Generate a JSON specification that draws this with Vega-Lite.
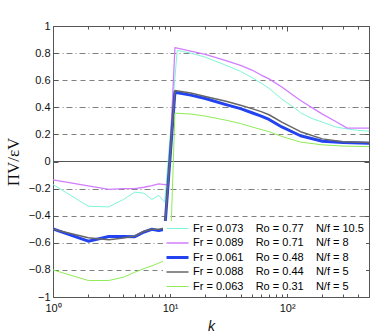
{
  "$schema": "https://vega.github.io/schema/vega-lite/v6.json",
  "width": 316,
  "height": 271,
  "autosize": "none",
  "padding": {"left": 53, "top": 26, "right": 5, "bottom": 35},
  "config": {
    "view": {"stroke": null},
    "font": "Liberation Sans",
    "axis": {"domainColor": "#555", "tickColor": "#555", "labelColor": "#111", "labelFontSize": 11, "labelFont": "Liberation Sans", "labelFlush": false, "labelOverlap": false, "labelBound": false, "titleColor": "#111", "titleFontWeight": "normal"},
    "legend": {"orient": "bottom-right", "offset": 3, "title": null, "symbolType": "stroke", "symbolSize": 484,
               "labelFontSize": 11, "labelLimit": 300, "labelOffset": 3, "rowPadding": 2.5, "padding": 2, "clipHeight": 11,
               "fillColor": "white"}
  },
  "data": {"values": [
    {"s": "Fr = 0.073\u00a0\u00a0\u00a0\u00a0Ro = 0.77\u00a0\u00a0\u00a0\u00a0N/f = 10.5", "k": 1, "v": -0.17},
    {"s": "Fr = 0.073\u00a0\u00a0\u00a0\u00a0Ro = 0.77\u00a0\u00a0\u00a0\u00a0N/f = 10.5", "k": 2, "v": -0.33},
    {"s": "Fr = 0.073\u00a0\u00a0\u00a0\u00a0Ro = 0.77\u00a0\u00a0\u00a0\u00a0N/f = 10.5", "k": 3, "v": -0.335},
    {"s": "Fr = 0.073\u00a0\u00a0\u00a0\u00a0Ro = 0.77\u00a0\u00a0\u00a0\u00a0N/f = 10.5", "k": 4, "v": -0.28},
    {"s": "Fr = 0.073\u00a0\u00a0\u00a0\u00a0Ro = 0.77\u00a0\u00a0\u00a0\u00a0N/f = 10.5", "k": 5, "v": -0.226},
    {"s": "Fr = 0.073\u00a0\u00a0\u00a0\u00a0Ro = 0.77\u00a0\u00a0\u00a0\u00a0N/f = 10.5", "k": 6, "v": -0.234},
    {"s": "Fr = 0.073\u00a0\u00a0\u00a0\u00a0Ro = 0.77\u00a0\u00a0\u00a0\u00a0N/f = 10.5", "k": 7, "v": -0.28},
    {"s": "Fr = 0.073\u00a0\u00a0\u00a0\u00a0Ro = 0.77\u00a0\u00a0\u00a0\u00a0N/f = 10.5", "k": 8, "v": -0.25},
    {"s": "Fr = 0.073\u00a0\u00a0\u00a0\u00a0Ro = 0.77\u00a0\u00a0\u00a0\u00a0N/f = 10.5", "k": 9, "v": -0.3},
    {"s": "Fr = 0.073\u00a0\u00a0\u00a0\u00a0Ro = 0.77\u00a0\u00a0\u00a0\u00a0N/f = 10.5", "k": 11.5, "v": 0.82},
    {"s": "Fr = 0.073\u00a0\u00a0\u00a0\u00a0Ro = 0.77\u00a0\u00a0\u00a0\u00a0N/f = 10.5", "k": 15, "v": 0.8},
    {"s": "Fr = 0.073\u00a0\u00a0\u00a0\u00a0Ro = 0.77\u00a0\u00a0\u00a0\u00a0N/f = 10.5", "k": 20, "v": 0.77},
    {"s": "Fr = 0.073\u00a0\u00a0\u00a0\u00a0Ro = 0.77\u00a0\u00a0\u00a0\u00a0N/f = 10.5", "k": 30, "v": 0.71},
    {"s": "Fr = 0.073\u00a0\u00a0\u00a0\u00a0Ro = 0.77\u00a0\u00a0\u00a0\u00a0N/f = 10.5", "k": 40, "v": 0.665},
    {"s": "Fr = 0.073\u00a0\u00a0\u00a0\u00a0Ro = 0.77\u00a0\u00a0\u00a0\u00a0N/f = 10.5", "k": 50, "v": 0.62},
    {"s": "Fr = 0.073\u00a0\u00a0\u00a0\u00a0Ro = 0.77\u00a0\u00a0\u00a0\u00a0N/f = 10.5", "k": 60, "v": 0.578},
    {"s": "Fr = 0.073\u00a0\u00a0\u00a0\u00a0Ro = 0.77\u00a0\u00a0\u00a0\u00a0N/f = 10.5", "k": 70, "v": 0.54},
    {"s": "Fr = 0.073\u00a0\u00a0\u00a0\u00a0Ro = 0.77\u00a0\u00a0\u00a0\u00a0N/f = 10.5", "k": 90, "v": 0.46},
    {"s": "Fr = 0.073\u00a0\u00a0\u00a0\u00a0Ro = 0.77\u00a0\u00a0\u00a0\u00a0N/f = 10.5", "k": 114, "v": 0.4},
    {"s": "Fr = 0.073\u00a0\u00a0\u00a0\u00a0Ro = 0.77\u00a0\u00a0\u00a0\u00a0N/f = 10.5", "k": 130, "v": 0.36},
    {"s": "Fr = 0.073\u00a0\u00a0\u00a0\u00a0Ro = 0.77\u00a0\u00a0\u00a0\u00a0N/f = 10.5", "k": 160, "v": 0.32},
    {"s": "Fr = 0.073\u00a0\u00a0\u00a0\u00a0Ro = 0.77\u00a0\u00a0\u00a0\u00a0N/f = 10.5", "k": 200, "v": 0.29},
    {"s": "Fr = 0.073\u00a0\u00a0\u00a0\u00a0Ro = 0.77\u00a0\u00a0\u00a0\u00a0N/f = 10.5", "k": 260, "v": 0.255},
    {"s": "Fr = 0.073\u00a0\u00a0\u00a0\u00a0Ro = 0.77\u00a0\u00a0\u00a0\u00a0N/f = 10.5", "k": 325, "v": 0.24},
    {"s": "Fr = 0.073\u00a0\u00a0\u00a0\u00a0Ro = 0.77\u00a0\u00a0\u00a0\u00a0N/f = 10.5", "k": 400, "v": 0.23},
    {"s": "Fr = 0.073\u00a0\u00a0\u00a0\u00a0Ro = 0.77\u00a0\u00a0\u00a0\u00a0N/f = 10.5", "k": 500, "v": 0.224},

    {"s": "Fr = 0.089\u00a0\u00a0\u00a0\u00a0Ro = 0.71\u00a0\u00a0\u00a0\u00a0N/f = 8", "k": 1, "v": -0.135},
    {"s": "Fr = 0.089\u00a0\u00a0\u00a0\u00a0Ro = 0.71\u00a0\u00a0\u00a0\u00a0N/f = 8", "k": 2, "v": -0.18},
    {"s": "Fr = 0.089\u00a0\u00a0\u00a0\u00a0Ro = 0.71\u00a0\u00a0\u00a0\u00a0N/f = 8", "k": 3, "v": -0.205},
    {"s": "Fr = 0.089\u00a0\u00a0\u00a0\u00a0Ro = 0.71\u00a0\u00a0\u00a0\u00a0N/f = 8", "k": 4, "v": -0.2},
    {"s": "Fr = 0.089\u00a0\u00a0\u00a0\u00a0Ro = 0.71\u00a0\u00a0\u00a0\u00a0N/f = 8", "k": 5, "v": -0.2},
    {"s": "Fr = 0.089\u00a0\u00a0\u00a0\u00a0Ro = 0.71\u00a0\u00a0\u00a0\u00a0N/f = 8", "k": 6, "v": -0.19},
    {"s": "Fr = 0.089\u00a0\u00a0\u00a0\u00a0Ro = 0.71\u00a0\u00a0\u00a0\u00a0N/f = 8", "k": 7, "v": -0.178},
    {"s": "Fr = 0.089\u00a0\u00a0\u00a0\u00a0Ro = 0.71\u00a0\u00a0\u00a0\u00a0N/f = 8", "k": 8, "v": -0.165},
    {"s": "Fr = 0.089\u00a0\u00a0\u00a0\u00a0Ro = 0.71\u00a0\u00a0\u00a0\u00a0N/f = 8", "k": 9, "v": -0.17},
    {"s": "Fr = 0.089\u00a0\u00a0\u00a0\u00a0Ro = 0.71\u00a0\u00a0\u00a0\u00a0N/f = 8", "k": 9.7, "v": -0.17},
    {"s": "Fr = 0.089\u00a0\u00a0\u00a0\u00a0Ro = 0.71\u00a0\u00a0\u00a0\u00a0N/f = 8", "k": 11, "v": 0.84},
    {"s": "Fr = 0.089\u00a0\u00a0\u00a0\u00a0Ro = 0.71\u00a0\u00a0\u00a0\u00a0N/f = 8", "k": 15, "v": 0.815},
    {"s": "Fr = 0.089\u00a0\u00a0\u00a0\u00a0Ro = 0.71\u00a0\u00a0\u00a0\u00a0N/f = 8", "k": 20, "v": 0.79},
    {"s": "Fr = 0.089\u00a0\u00a0\u00a0\u00a0Ro = 0.71\u00a0\u00a0\u00a0\u00a0N/f = 8", "k": 30, "v": 0.745},
    {"s": "Fr = 0.089\u00a0\u00a0\u00a0\u00a0Ro = 0.71\u00a0\u00a0\u00a0\u00a0N/f = 8", "k": 40, "v": 0.71},
    {"s": "Fr = 0.089\u00a0\u00a0\u00a0\u00a0Ro = 0.71\u00a0\u00a0\u00a0\u00a0N/f = 8", "k": 50, "v": 0.675},
    {"s": "Fr = 0.089\u00a0\u00a0\u00a0\u00a0Ro = 0.71\u00a0\u00a0\u00a0\u00a0N/f = 8", "k": 60, "v": 0.638},
    {"s": "Fr = 0.089\u00a0\u00a0\u00a0\u00a0Ro = 0.71\u00a0\u00a0\u00a0\u00a0N/f = 8", "k": 70, "v": 0.61},
    {"s": "Fr = 0.089\u00a0\u00a0\u00a0\u00a0Ro = 0.71\u00a0\u00a0\u00a0\u00a0N/f = 8", "k": 90, "v": 0.55},
    {"s": "Fr = 0.089\u00a0\u00a0\u00a0\u00a0Ro = 0.71\u00a0\u00a0\u00a0\u00a0N/f = 8", "k": 130, "v": 0.45},
    {"s": "Fr = 0.089\u00a0\u00a0\u00a0\u00a0Ro = 0.71\u00a0\u00a0\u00a0\u00a0N/f = 8", "k": 200, "v": 0.35},
    {"s": "Fr = 0.089\u00a0\u00a0\u00a0\u00a0Ro = 0.71\u00a0\u00a0\u00a0\u00a0N/f = 8", "k": 260, "v": 0.295},
    {"s": "Fr = 0.089\u00a0\u00a0\u00a0\u00a0Ro = 0.71\u00a0\u00a0\u00a0\u00a0N/f = 8", "k": 325, "v": 0.246},
    {"s": "Fr = 0.089\u00a0\u00a0\u00a0\u00a0Ro = 0.71\u00a0\u00a0\u00a0\u00a0N/f = 8", "k": 500, "v": 0.246},

    {"s": "Fr = 0.061\u00a0\u00a0\u00a0\u00a0Ro = 0.48\u00a0\u00a0\u00a0\u00a0N/f = 8", "k": 1, "v": -0.497},
    {"s": "Fr = 0.061\u00a0\u00a0\u00a0\u00a0Ro = 0.48\u00a0\u00a0\u00a0\u00a0N/f = 8", "k": 2, "v": -0.588},
    {"s": "Fr = 0.061\u00a0\u00a0\u00a0\u00a0Ro = 0.48\u00a0\u00a0\u00a0\u00a0N/f = 8", "k": 3, "v": -0.553},
    {"s": "Fr = 0.061\u00a0\u00a0\u00a0\u00a0Ro = 0.48\u00a0\u00a0\u00a0\u00a0N/f = 8", "k": 4, "v": -0.553},
    {"s": "Fr = 0.061\u00a0\u00a0\u00a0\u00a0Ro = 0.48\u00a0\u00a0\u00a0\u00a0N/f = 8", "k": 5, "v": -0.555},
    {"s": "Fr = 0.061\u00a0\u00a0\u00a0\u00a0Ro = 0.48\u00a0\u00a0\u00a0\u00a0N/f = 8", "k": 6, "v": -0.52},
    {"s": "Fr = 0.061\u00a0\u00a0\u00a0\u00a0Ro = 0.48\u00a0\u00a0\u00a0\u00a0N/f = 8", "k": 7, "v": -0.5},
    {"s": "Fr = 0.061\u00a0\u00a0\u00a0\u00a0Ro = 0.48\u00a0\u00a0\u00a0\u00a0N/f = 8", "k": 8, "v": -0.51},
    {"s": "Fr = 0.061\u00a0\u00a0\u00a0\u00a0Ro = 0.48\u00a0\u00a0\u00a0\u00a0N/f = 8", "k": 9, "v": -0.5},
    {"s": "Fr = 0.061\u00a0\u00a0\u00a0\u00a0Ro = 0.48\u00a0\u00a0\u00a0\u00a0N/f = 8", "k": 11, "v": 0.511},
    {"s": "Fr = 0.061\u00a0\u00a0\u00a0\u00a0Ro = 0.48\u00a0\u00a0\u00a0\u00a0N/f = 8", "k": 15, "v": 0.49},
    {"s": "Fr = 0.061\u00a0\u00a0\u00a0\u00a0Ro = 0.48\u00a0\u00a0\u00a0\u00a0N/f = 8", "k": 20, "v": 0.465},
    {"s": "Fr = 0.061\u00a0\u00a0\u00a0\u00a0Ro = 0.48\u00a0\u00a0\u00a0\u00a0N/f = 8", "k": 30, "v": 0.42},
    {"s": "Fr = 0.061\u00a0\u00a0\u00a0\u00a0Ro = 0.48\u00a0\u00a0\u00a0\u00a0N/f = 8", "k": 40, "v": 0.39},
    {"s": "Fr = 0.061\u00a0\u00a0\u00a0\u00a0Ro = 0.48\u00a0\u00a0\u00a0\u00a0N/f = 8", "k": 50, "v": 0.36},
    {"s": "Fr = 0.061\u00a0\u00a0\u00a0\u00a0Ro = 0.48\u00a0\u00a0\u00a0\u00a0N/f = 8", "k": 60, "v": 0.335},
    {"s": "Fr = 0.061\u00a0\u00a0\u00a0\u00a0Ro = 0.48\u00a0\u00a0\u00a0\u00a0N/f = 8", "k": 70, "v": 0.31},
    {"s": "Fr = 0.061\u00a0\u00a0\u00a0\u00a0Ro = 0.48\u00a0\u00a0\u00a0\u00a0N/f = 8", "k": 90, "v": 0.255},
    {"s": "Fr = 0.061\u00a0\u00a0\u00a0\u00a0Ro = 0.48\u00a0\u00a0\u00a0\u00a0N/f = 8", "k": 130, "v": 0.19},
    {"s": "Fr = 0.061\u00a0\u00a0\u00a0\u00a0Ro = 0.48\u00a0\u00a0\u00a0\u00a0N/f = 8", "k": 200, "v": 0.15},
    {"s": "Fr = 0.061\u00a0\u00a0\u00a0\u00a0Ro = 0.48\u00a0\u00a0\u00a0\u00a0N/f = 8", "k": 300, "v": 0.14},
    {"s": "Fr = 0.061\u00a0\u00a0\u00a0\u00a0Ro = 0.48\u00a0\u00a0\u00a0\u00a0N/f = 8", "k": 500, "v": 0.135},

    {"s": "Fr = 0.088\u00a0\u00a0\u00a0\u00a0Ro = 0.44\u00a0\u00a0\u00a0\u00a0N/f = 5", "k": 1, "v": -0.5},
    {"s": "Fr = 0.088\u00a0\u00a0\u00a0\u00a0Ro = 0.44\u00a0\u00a0\u00a0\u00a0N/f = 5", "k": 2, "v": -0.563},
    {"s": "Fr = 0.088\u00a0\u00a0\u00a0\u00a0Ro = 0.44\u00a0\u00a0\u00a0\u00a0N/f = 5", "k": 3, "v": -0.578},
    {"s": "Fr = 0.088\u00a0\u00a0\u00a0\u00a0Ro = 0.44\u00a0\u00a0\u00a0\u00a0N/f = 5", "k": 4, "v": -0.565},
    {"s": "Fr = 0.088\u00a0\u00a0\u00a0\u00a0Ro = 0.44\u00a0\u00a0\u00a0\u00a0N/f = 5", "k": 5, "v": -0.55},
    {"s": "Fr = 0.088\u00a0\u00a0\u00a0\u00a0Ro = 0.44\u00a0\u00a0\u00a0\u00a0N/f = 5", "k": 6, "v": -0.515},
    {"s": "Fr = 0.088\u00a0\u00a0\u00a0\u00a0Ro = 0.44\u00a0\u00a0\u00a0\u00a0N/f = 5", "k": 7, "v": -0.5},
    {"s": "Fr = 0.088\u00a0\u00a0\u00a0\u00a0Ro = 0.44\u00a0\u00a0\u00a0\u00a0N/f = 5", "k": 8, "v": -0.5},
    {"s": "Fr = 0.088\u00a0\u00a0\u00a0\u00a0Ro = 0.44\u00a0\u00a0\u00a0\u00a0N/f = 5", "k": 9, "v": -0.49},
    {"s": "Fr = 0.088\u00a0\u00a0\u00a0\u00a0Ro = 0.44\u00a0\u00a0\u00a0\u00a0N/f = 5", "k": 11, "v": 0.524},
    {"s": "Fr = 0.088\u00a0\u00a0\u00a0\u00a0Ro = 0.44\u00a0\u00a0\u00a0\u00a0N/f = 5", "k": 15, "v": 0.505},
    {"s": "Fr = 0.088\u00a0\u00a0\u00a0\u00a0Ro = 0.44\u00a0\u00a0\u00a0\u00a0N/f = 5", "k": 20, "v": 0.48},
    {"s": "Fr = 0.088\u00a0\u00a0\u00a0\u00a0Ro = 0.44\u00a0\u00a0\u00a0\u00a0N/f = 5", "k": 30, "v": 0.445},
    {"s": "Fr = 0.088\u00a0\u00a0\u00a0\u00a0Ro = 0.44\u00a0\u00a0\u00a0\u00a0N/f = 5", "k": 40, "v": 0.415},
    {"s": "Fr = 0.088\u00a0\u00a0\u00a0\u00a0Ro = 0.44\u00a0\u00a0\u00a0\u00a0N/f = 5", "k": 50, "v": 0.39},
    {"s": "Fr = 0.088\u00a0\u00a0\u00a0\u00a0Ro = 0.44\u00a0\u00a0\u00a0\u00a0N/f = 5", "k": 60, "v": 0.368},
    {"s": "Fr = 0.088\u00a0\u00a0\u00a0\u00a0Ro = 0.44\u00a0\u00a0\u00a0\u00a0N/f = 5", "k": 70, "v": 0.345},
    {"s": "Fr = 0.088\u00a0\u00a0\u00a0\u00a0Ro = 0.44\u00a0\u00a0\u00a0\u00a0N/f = 5", "k": 90, "v": 0.29},
    {"s": "Fr = 0.088\u00a0\u00a0\u00a0\u00a0Ro = 0.44\u00a0\u00a0\u00a0\u00a0N/f = 5", "k": 130, "v": 0.22},
    {"s": "Fr = 0.088\u00a0\u00a0\u00a0\u00a0Ro = 0.44\u00a0\u00a0\u00a0\u00a0N/f = 5", "k": 200, "v": 0.167},
    {"s": "Fr = 0.088\u00a0\u00a0\u00a0\u00a0Ro = 0.44\u00a0\u00a0\u00a0\u00a0N/f = 5", "k": 300, "v": 0.145},
    {"s": "Fr = 0.088\u00a0\u00a0\u00a0\u00a0Ro = 0.44\u00a0\u00a0\u00a0\u00a0N/f = 5", "k": 500, "v": 0.14},

    {"s": "Fr = 0.063\u00a0\u00a0\u00a0\u00a0Ro = 0.31\u00a0\u00a0\u00a0\u00a0N/f = 5", "k": 1, "v": -0.8},
    {"s": "Fr = 0.063\u00a0\u00a0\u00a0\u00a0Ro = 0.31\u00a0\u00a0\u00a0\u00a0N/f = 5", "k": 2, "v": -0.878},
    {"s": "Fr = 0.063\u00a0\u00a0\u00a0\u00a0Ro = 0.31\u00a0\u00a0\u00a0\u00a0N/f = 5", "k": 3, "v": -0.878},
    {"s": "Fr = 0.063\u00a0\u00a0\u00a0\u00a0Ro = 0.31\u00a0\u00a0\u00a0\u00a0N/f = 5", "k": 4, "v": -0.854},
    {"s": "Fr = 0.063\u00a0\u00a0\u00a0\u00a0Ro = 0.31\u00a0\u00a0\u00a0\u00a0N/f = 5", "k": 5, "v": -0.817},
    {"s": "Fr = 0.063\u00a0\u00a0\u00a0\u00a0Ro = 0.31\u00a0\u00a0\u00a0\u00a0N/f = 5", "k": 6, "v": -0.79},
    {"s": "Fr = 0.063\u00a0\u00a0\u00a0\u00a0Ro = 0.31\u00a0\u00a0\u00a0\u00a0N/f = 5", "k": 7, "v": -0.77},
    {"s": "Fr = 0.063\u00a0\u00a0\u00a0\u00a0Ro = 0.31\u00a0\u00a0\u00a0\u00a0N/f = 5", "k": 8, "v": -0.75},
    {"s": "Fr = 0.063\u00a0\u00a0\u00a0\u00a0Ro = 0.31\u00a0\u00a0\u00a0\u00a0N/f = 5", "k": 9, "v": -0.73},
    {"s": "Fr = 0.063\u00a0\u00a0\u00a0\u00a0Ro = 0.31\u00a0\u00a0\u00a0\u00a0N/f = 5", "k": 10, "v": -0.72},
    {"s": "Fr = 0.063\u00a0\u00a0\u00a0\u00a0Ro = 0.31\u00a0\u00a0\u00a0\u00a0N/f = 5", "k": 11, "v": 0.357},
    {"s": "Fr = 0.063\u00a0\u00a0\u00a0\u00a0Ro = 0.31\u00a0\u00a0\u00a0\u00a0N/f = 5", "k": 15, "v": 0.35},
    {"s": "Fr = 0.063\u00a0\u00a0\u00a0\u00a0Ro = 0.31\u00a0\u00a0\u00a0\u00a0N/f = 5", "k": 20, "v": 0.335},
    {"s": "Fr = 0.063\u00a0\u00a0\u00a0\u00a0Ro = 0.31\u00a0\u00a0\u00a0\u00a0N/f = 5", "k": 30, "v": 0.305},
    {"s": "Fr = 0.063\u00a0\u00a0\u00a0\u00a0Ro = 0.31\u00a0\u00a0\u00a0\u00a0N/f = 5", "k": 40, "v": 0.28},
    {"s": "Fr = 0.063\u00a0\u00a0\u00a0\u00a0Ro = 0.31\u00a0\u00a0\u00a0\u00a0N/f = 5", "k": 50, "v": 0.255},
    {"s": "Fr = 0.063\u00a0\u00a0\u00a0\u00a0Ro = 0.31\u00a0\u00a0\u00a0\u00a0N/f = 5", "k": 60, "v": 0.236},
    {"s": "Fr = 0.063\u00a0\u00a0\u00a0\u00a0Ro = 0.31\u00a0\u00a0\u00a0\u00a0N/f = 5", "k": 70, "v": 0.22},
    {"s": "Fr = 0.063\u00a0\u00a0\u00a0\u00a0Ro = 0.31\u00a0\u00a0\u00a0\u00a0N/f = 5", "k": 90, "v": 0.185},
    {"s": "Fr = 0.063\u00a0\u00a0\u00a0\u00a0Ro = 0.31\u00a0\u00a0\u00a0\u00a0N/f = 5", "k": 130, "v": 0.143},
    {"s": "Fr = 0.063\u00a0\u00a0\u00a0\u00a0Ro = 0.31\u00a0\u00a0\u00a0\u00a0N/f = 5", "k": 200, "v": 0.123},
    {"s": "Fr = 0.063\u00a0\u00a0\u00a0\u00a0Ro = 0.31\u00a0\u00a0\u00a0\u00a0N/f = 5", "k": 300, "v": 0.114},
    {"s": "Fr = 0.063\u00a0\u00a0\u00a0\u00a0Ro = 0.31\u00a0\u00a0\u00a0\u00a0N/f = 5", "k": 500, "v": 0.11}
  ]},
  "layer": [
    {
      "mark": {"type": "rule", "color": "#555", "strokeWidth": 1},
      "encoding": {"y": {"datum": 0, "type": "quantitative", "axis": null}}
    },
    {
      "mark": {"type": "line", "strokeJoin": "round", "clip": true},
      "encoding": {
        "x": {"field": "k", "type": "quantitative",
              "scale": {"type": "log", "domain": [1, 500], "nice": false},
              "axis": {"values": [1,2,3,4,5,6,7,8,9,10,20,30,40,50,60,70,80,90,100,200,300,400,500],
                       "labelExpr": "datum.value == 1 ? '10⁰' : datum.value == 10 ? '10¹' : datum.value == 100 ? '10²' : ''",
                       "tickSize": {"condition": {"test": "indexof([1,10,100], datum.value) >= 0", "value": -5}, "value": -3},
                       "labelPadding": 10, "grid": false,
                       "title": "k", "titleFontStyle": "italic", "titleFontSize": 14, "titlePadding": 4}},
        "y": {"field": "v", "type": "quantitative",
              "scale": {"domain": [-1, 1], "nice": false, "zero": false},
              "axis": {"values": [-1,-0.8,-0.6,-0.4,-0.2,0,0.2,0.4,0.6,0.8,1],
                       "labelExpr": "replace(format(datum.value, '.1~f'), '-', '−')",
                       "tickSize": -5, "labelPadding": 8,
                       "grid": true, "gridColor": "#808080", "gridWidth": 1,
                       "gridDash": {"condition": {"test": "indexof([4,2,-1,-3], round(datum.value*5)) >= 0", "value": [6,3,1,3]}, "value": [5,4]},
                       "gridOpacity": {"condition": {"test": "abs(datum.value) > 0.99 || abs(datum.value) < 0.01", "value": 0}, "value": 1},
                       "title": "ΠV/εV", "titleFont": "Liberation Serif", "titleFontSize": 17, "titlePadding": 6}},
        "color": {"field": "s", "type": "nominal",
                  "scale": {"domain": [
                    "Fr = 0.073\u00a0\u00a0\u00a0\u00a0Ro = 0.77\u00a0\u00a0\u00a0\u00a0N/f = 10.5",
                    "Fr = 0.089\u00a0\u00a0\u00a0\u00a0Ro = 0.71\u00a0\u00a0\u00a0\u00a0N/f = 8",
                    "Fr = 0.061\u00a0\u00a0\u00a0\u00a0Ro = 0.48\u00a0\u00a0\u00a0\u00a0N/f = 8",
                    "Fr = 0.088\u00a0\u00a0\u00a0\u00a0Ro = 0.44\u00a0\u00a0\u00a0\u00a0N/f = 5",
                    "Fr = 0.063\u00a0\u00a0\u00a0\u00a0Ro = 0.31\u00a0\u00a0\u00a0\u00a0N/f = 5"],
                    "range": ["#80f5d5", "#d27dff", "#2343f0", "#666666", "#8fec55"]}},
        "strokeWidth": {"field": "s", "type": "nominal",
                  "scale": {"type": "ordinal", "domain": [
                    "Fr = 0.073\u00a0\u00a0\u00a0\u00a0Ro = 0.77\u00a0\u00a0\u00a0\u00a0N/f = 10.5",
                    "Fr = 0.089\u00a0\u00a0\u00a0\u00a0Ro = 0.71\u00a0\u00a0\u00a0\u00a0N/f = 8",
                    "Fr = 0.061\u00a0\u00a0\u00a0\u00a0Ro = 0.48\u00a0\u00a0\u00a0\u00a0N/f = 8",
                    "Fr = 0.088\u00a0\u00a0\u00a0\u00a0Ro = 0.44\u00a0\u00a0\u00a0\u00a0N/f = 5",
                    "Fr = 0.063\u00a0\u00a0\u00a0\u00a0Ro = 0.31\u00a0\u00a0\u00a0\u00a0N/f = 5"],
                    "range": [1, 1.3, 3, 1.5, 1]}}
      }
    },
    {
      "mark": {"type": "point", "opacity": 0},
      "encoding": {
        "x": {"field": "k", "type": "quantitative",
              "axis": {"orient": "top", "values": [1,2,3,4,5,6,7,8,9,10,20,30,40,50,60,70,80,90,100,200,300,400,500],
                       "labels": false, "title": null, "grid": false,
                       "tickSize": {"condition": {"test": "indexof([1,10,100], datum.value) >= 0", "value": -5}, "value": -3}}},
        "y": {"field": "v", "type": "quantitative",
              "axis": {"orient": "right", "values": [-1,-0.8,-0.6,-0.4,-0.2,0,0.2,0.4,0.6,0.8,1],
                       "labels": false, "title": null, "grid": false, "tickSize": -5}}
      }
    }
  ],
  "resolve": {"axis": {"x": "independent", "y": "independent"}}
}
